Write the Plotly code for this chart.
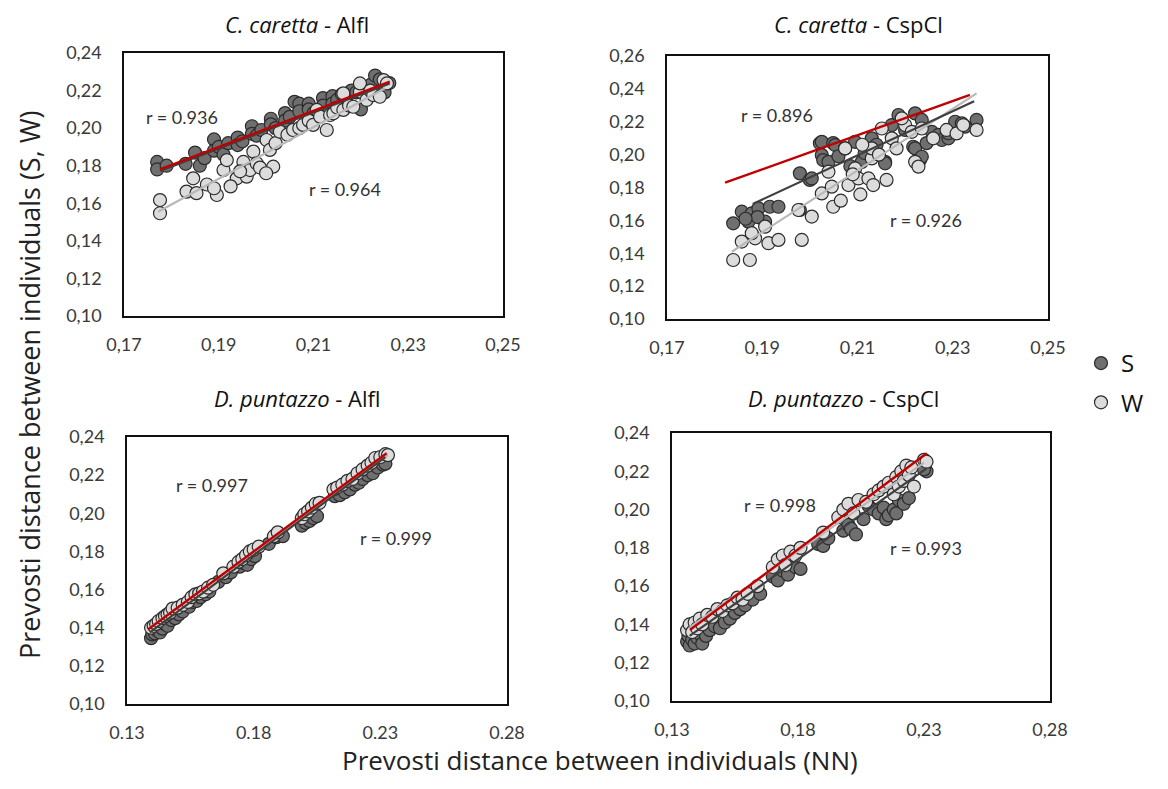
import plotly.graph_objects as go

# ---------------- DATA ----------------
# Panel 1: C. caretta - Alfl
cc_alfl_s_x = [0.177, 0.177, 0.179, 0.183, 0.185, 0.186, 0.187, 0.189, 0.189, 0.190,
               0.191, 0.192, 0.194, 0.194, 0.195, 0.197, 0.197, 0.198, 0.199, 0.201,
               0.201, 0.202, 0.204, 0.204, 0.205, 0.206, 0.207, 0.207, 0.209, 0.209,
               0.210, 0.212, 0.212, 0.214, 0.214, 0.215, 0.216, 0.217, 0.218, 0.219,
               0.220, 0.220, 0.221, 0.222, 0.223, 0.224, 0.225, 0.225, 0.226]
cc_alfl_s_y = [0.182, 0.178, 0.180, 0.181, 0.187, 0.180, 0.184, 0.194, 0.188, 0.190,
               0.186, 0.192, 0.195, 0.191, 0.193, 0.201, 0.197, 0.196, 0.199, 0.205,
               0.202, 0.200, 0.208, 0.204, 0.206, 0.214, 0.213, 0.209, 0.213, 0.210,
               0.208, 0.216, 0.212, 0.217, 0.213, 0.215, 0.218, 0.214, 0.220, 0.219,
               0.221, 0.210, 0.218, 0.223, 0.228, 0.226, 0.222, 0.219, 0.224]
cc_alfl_w_x = [0.1776, 0.1776, 0.1832, 0.1846, 0.1853, 0.1875, 0.1896, 0.1890, 0.1910, 0.1917,
               0.1938, 0.1952, 0.1959, 0.1966, 0.1973, 0.1980, 0.1987, 0.2001, 0.2008, 0.2015,
               0.2020, 0.2029, 0.2045, 0.2057, 0.2070, 0.2078, 0.2090, 0.2099, 0.2107, 0.2114,
               0.2128, 0.2135, 0.2142, 0.2150, 0.2163, 0.2163, 0.2175, 0.2184, 0.2198, 0.2198,
               0.2212, 0.2220, 0.2226, 0.2240, 0.2248, 0.2255, 0.1925, 0.1945, 0.2000]
cc_alfl_w_y = [0.1617, 0.1547, 0.1662, 0.1733, 0.1654, 0.1700, 0.1644, 0.1680, 0.1777, 0.1830,
               0.1733, 0.1820, 0.1742, 0.1777, 0.1875, 0.1813, 0.1790, 0.1937, 0.1884, 0.1795,
               0.1920, 0.1981, 0.1965, 0.1990, 0.2000, 0.2017, 0.2040, 0.2017, 0.2097, 0.2061,
               0.1990, 0.2070, 0.2079, 0.2110, 0.2097, 0.2185, 0.2120, 0.2114, 0.2194, 0.2238,
               0.2150, 0.2200, 0.2176, 0.2167, 0.2256, 0.2238, 0.1690, 0.1770, 0.1760]

# Panel 2: C. caretta - CspCl
cc_cspcl_s_x = [0.1839, 0.1857, 0.1878, 0.1892, 0.1916, 0.1934, 0.1871, 0.1906, 0.1890, 0.1865,
                0.1979, 0.1979, 0.2000, 0.2004, 0.2021, 0.2025, 0.2025, 0.2028, 0.2039, 0.2049,
                0.2053, 0.2060, 0.2074, 0.2085, 0.2095, 0.2109, 0.2115, 0.2130, 0.2140, 0.2158,
                0.2158, 0.2172, 0.2186, 0.2200, 0.2217, 0.2221, 0.2221, 0.2231, 0.2235, 0.2235,
                0.2245, 0.2256, 0.2270, 0.2277, 0.2291, 0.2291, 0.2305, 0.2319, 0.2326, 0.2350]
cc_cspcl_s_y = [0.1582, 0.1653, 0.1643, 0.1673, 0.1683, 0.1683, 0.1592, 0.1592, 0.1620, 0.1610,
                0.1886, 0.1663, 0.1846, 0.1855, 0.2069, 0.2078, 0.1997, 0.1967, 0.1956, 0.2070,
                0.2058, 0.1990, 0.2038, 0.1930, 0.2078, 0.1956, 0.2010, 0.2099, 0.2060, 0.1956,
                0.1947, 0.2180, 0.2241, 0.2150, 0.2048, 0.2251, 0.2038, 0.1967, 0.2211, 0.1987,
                0.2070, 0.2139, 0.2120, 0.2089, 0.2099, 0.2130, 0.2200, 0.2190, 0.2170, 0.2211]
cc_cspcl_w_x = [0.1839, 0.1874, 0.1857, 0.1885, 0.1913, 0.1934, 0.1878, 0.1906, 0.1983, 0.1976,
                0.2004, 0.2025, 0.2049, 0.2046, 0.2039, 0.2074, 0.2081, 0.2095, 0.2106, 0.2102,
                0.2123, 0.2133, 0.2130, 0.2130, 0.2161, 0.2151, 0.2172, 0.2182, 0.2200, 0.2193,
                0.2221, 0.2228, 0.2214, 0.2235, 0.2259, 0.2287, 0.2308, 0.2322, 0.2350, 0.2065,
                0.2090, 0.2145, 0.2110]
cc_cspcl_w_y = [0.1359, 0.1359, 0.1471, 0.1491, 0.1461, 0.1481, 0.1522, 0.1562, 0.1481, 0.1663,
                0.1623, 0.1764, 0.1683, 0.1805, 0.1896, 0.2038, 0.1815, 0.1916, 0.1758, 0.1855,
                0.1855, 0.1815, 0.1977, 0.2038, 0.1846, 0.2159, 0.2099, 0.2038, 0.2180, 0.2221,
                0.1956, 0.1927, 0.2139, 0.2159, 0.2099, 0.2150, 0.2129, 0.2180, 0.2150, 0.1720,
                0.1880, 0.2000, 0.2060]

# Panel 3: D. puntazzo - Alfl
dp_alfl_s_x = [0.1395, 0.1400, 0.1410, 0.1420, 0.1430, 0.1440, 0.1450, 0.1460, 0.1475, 0.1490,
               0.1505, 0.1520, 0.1545, 0.1560, 0.1575, 0.1590, 0.1610, 0.1625, 0.1660, 0.1690,
               0.1710, 0.1745, 0.1760, 0.1775, 0.1790, 0.1805, 0.1860, 0.1890, 0.1915, 0.1990,
               0.2005, 0.2020, 0.2035, 0.2050, 0.2120, 0.2140, 0.2160, 0.2180, 0.2200, 0.2215,
               0.2230, 0.2250, 0.2270, 0.2290, 0.2310, 0.2320]
dp_alfl_s_y = [0.1345, 0.1365, 0.1370, 0.1385, 0.1375, 0.1395, 0.1420, 0.1410, 0.1440, 0.1450,
               0.1470, 0.1485, 0.1510, 0.1535, 0.1540, 0.1560, 0.1575, 0.1590, 0.1640, 0.1665,
               0.1690, 0.1720, 0.1740, 0.1730, 0.1760, 0.1775, 0.1840, 0.1875, 0.1880, 0.1935,
               0.1950, 0.1960, 0.1975, 0.1985, 0.2090, 0.2095, 0.2110, 0.2125, 0.2150, 0.2160,
               0.2180, 0.2200, 0.2210, 0.2240, 0.2255, 0.2260]
dp_alfl_w_x = [0.1395, 0.1405, 0.1415, 0.1425, 0.1440, 0.1450, 0.1460, 0.1470, 0.1480, 0.1500,
               0.1520, 0.1540, 0.1555, 0.1570, 0.1585, 0.1600, 0.1620, 0.1640, 0.1680, 0.1720,
               0.1740, 0.1755, 0.1770, 0.1785, 0.1800, 0.1820, 0.1880, 0.1895, 0.1990, 0.2000,
               0.2015, 0.2030, 0.2045, 0.2060, 0.2115, 0.2130, 0.2150, 0.2170, 0.2190, 0.2210,
               0.2230, 0.2250, 0.2265, 0.2280, 0.2300, 0.2320, 0.2330]
dp_alfl_w_y = [0.1400, 0.1410, 0.1420, 0.1435, 0.1450, 0.1460, 0.1470, 0.1480, 0.1500, 0.1505,
               0.1520, 0.1535, 0.1560, 0.1575, 0.1580, 0.1590, 0.1610, 0.1625, 0.1685, 0.1720,
               0.1745, 0.1760, 0.1780, 0.1800, 0.1810, 0.1825, 0.1880, 0.1900, 0.1975, 0.1995,
               0.2010, 0.2030, 0.2050, 0.2055, 0.2125, 0.2135, 0.2150, 0.2170, 0.2180, 0.2210,
               0.2230, 0.2250, 0.2265, 0.2290, 0.2295, 0.2310, 0.2305]

# Panel 4: D. puntazzo - CspCl
dp_cspcl_s_x = [0.1360, 0.1365, 0.1370, 0.1375, 0.1380, 0.1390, 0.1400, 0.1410, 0.1420, 0.1435,
                0.1450, 0.1470, 0.1490, 0.1510, 0.1530, 0.1550, 0.1570, 0.1590, 0.1620, 0.1650,
                0.1700, 0.1720, 0.1740, 0.1760, 0.1790, 0.1810, 0.1880, 0.1900, 0.1920, 0.1980,
                0.2000, 0.2010, 0.2030, 0.2060, 0.2080, 0.2100, 0.2120, 0.2140, 0.2150, 0.2160,
                0.2180, 0.2190, 0.2200, 0.2220, 0.2240, 0.2310, 0.2300]
dp_cspcl_s_y = [0.1310, 0.1340, 0.1290, 0.1360, 0.1320, 0.1300, 0.1330, 0.1350, 0.1300, 0.1340,
                0.1370, 0.1390, 0.1380, 0.1410, 0.1430, 0.1460, 0.1480, 0.1500, 0.1530, 0.1560,
                0.1650, 0.1630, 0.1680, 0.1660, 0.1700, 0.1690, 0.1820, 0.1810, 0.1850, 0.1890,
                0.1920, 0.1900, 0.1870, 0.1950, 0.2020, 0.2000, 0.1980, 0.2010, 0.1950, 0.1970,
                0.2000, 0.1980, 0.2050, 0.2030, 0.2060, 0.2200, 0.2210]
dp_cspcl_w_x = [0.1360, 0.1370, 0.1380, 0.1390, 0.1400, 0.1410, 0.1420, 0.1440, 0.1460, 0.1480,
                0.1500, 0.1520, 0.1540, 0.1560, 0.1580, 0.1600, 0.1640, 0.1700, 0.1720, 0.1740,
                0.1750, 0.1770, 0.1790, 0.1810, 0.1900, 0.1960, 0.1980, 0.2000, 0.2020, 0.2040,
                0.2070, 0.2100, 0.2120, 0.2140, 0.2160, 0.2180, 0.2190, 0.2200, 0.2210, 0.2220,
                0.2230, 0.2240, 0.2250, 0.2260, 0.2300, 0.2310]
dp_cspcl_w_y = [0.1370, 0.1400, 0.1360, 0.1410, 0.1380, 0.1430, 0.1400, 0.1450, 0.1440, 0.1480,
                0.1470, 0.1500, 0.1510, 0.1540, 0.1530, 0.1560, 0.1600, 0.1700, 0.1740, 0.1760,
                0.1710, 0.1780, 0.1760, 0.1800, 0.1880, 0.1960, 0.2000, 0.2030, 0.1980, 0.2050,
                0.2040, 0.2080, 0.2100, 0.2120, 0.2140, 0.2080, 0.2170, 0.2120, 0.2200, 0.2150,
                0.2230, 0.2180, 0.2220, 0.2120, 0.2260, 0.2250]

# Line endpoints (red = reference line, dark = S fit, light = W fit)
red_x = [[0.1776, 0.2261], [0.1822, 0.2336], [0.1384, 0.2325], [0.1371, 0.2311]]
red_y = [[0.1781, 0.2247], [0.1829, 0.2363], [0.1392, 0.2315], [0.1371, 0.2294]]
sfit_x = [[0.1776, 0.2261], [0.1880, 0.2345], [0.1390, 0.2320], [0.1370, 0.2310]]
sfit_y = [[0.1772, 0.2238], [0.1700, 0.2325], [0.1375, 0.2295], [0.1340, 0.2215]]
wfit_x = [[0.1772, 0.2251], [0.1836, 0.2350], [0.1390, 0.2330], [0.1370, 0.2300]]
wfit_y = [[0.1555, 0.2212], [0.1409, 0.2373], [0.1400, 0.2305], [0.1385, 0.2245]]

panel_titles = ["<i>C. caretta</i> - Alfl", "<i>C. caretta</i> - CspCl",
                "<i>D. puntazzo</i> - Alfl", "<i>D. puntazzo</i> - CspCl"]
r_labels = [["r = 0.936", "r = 0.964"], ["r = 0.896", "r = 0.926"],
            ["r = 0.997", "r = 0.999"], ["r = 0.998", "r = 0.993"]]
r_pos = [[(0.1822, 0.2059), (0.2166, 0.1676)], [(0.1931, 0.2241), (0.2244, 0.1602)],
         [(0.1636, 0.2148), (0.2362, 0.1870)], [(0.1729, 0.2024), (0.2308, 0.1799)]]

top_x_ticks = [0.17, 0.19, 0.21, 0.23, 0.25]
top_x_text = ["0,17", "0,19", "0,21", "0,23", "0,25"]
bot_x_ticks = [0.13, 0.18, 0.23, 0.28]
bot_x_text_alfl = ["0.13", "0.18", "0.23", "0.28"]
bot_x_text_cspcl = ["0,13", "0,18", "0,23", "0,28"]
y_ticks_24 = [0.10, 0.12, 0.14, 0.16, 0.18, 0.20, 0.22, 0.24]
y_text_24 = ["0,10", "0,12", "0,14", "0,16", "0,18", "0,20", "0,22", "0,24"]
y_ticks_26 = y_ticks_24 + [0.26]
y_text_26 = y_text_24 + ["0,26"]

series_names = ["S", "W"]
# ---------------- FIGURE ----------------
PAGE_OFF = 8                    # default body margin of the page
W, H = 1168 - 2 * PAGE_OFF, 789 - 2 * PAGE_OFF
S_COLOR = "#6f6f6f"
W_COLOR = "#dcdcdc"
EDGE = "#2b2b2b"
FONT = "Lato"

def fx(px):
    return (px - PAGE_OFF) / W

def fy(py):
    return 1 - (py - PAGE_OFF) / H

panels = [
    (cc_alfl_s_x, cc_alfl_s_y, cc_alfl_w_x, cc_alfl_w_y),
    (cc_cspcl_s_x, cc_cspcl_s_y, cc_cspcl_w_x, cc_cspcl_w_y),
    (dp_alfl_s_x, dp_alfl_s_y, dp_alfl_w_x, dp_alfl_w_y),
    (dp_cspcl_s_x, dp_cspcl_s_y, dp_cspcl_w_x, dp_cspcl_w_y),
]
# page-pixel boxes of plot areas: (left, right, top, bottom)
boxes = [(124, 503, 53, 316), (667, 1048, 56, 319), (127, 507, 437, 704), (672, 1050, 433, 701)]
title_pos = [(297, 24), (858, 24), (297, 398), (843, 398)]

fig = go.Figure()
for i, (sx, sy, wx, wy) in enumerate(panels):
    xa = "x" if i == 0 else f"x{i+1}"
    ya = "y" if i == 0 else f"y{i+1}"
    fig.add_trace(go.Scatter(x=sx, y=sy, mode="markers", name=series_names[0], xaxis=xa, yaxis=ya,
                             marker=dict(size=13, color=S_COLOR, line=dict(color=EDGE, width=1.2)),
                             showlegend=(i == 0), legendgroup="S", legendrank=1))
    fig.add_trace(go.Scatter(x=wx, y=wy, mode="markers", name=series_names[1], xaxis=xa, yaxis=ya,
                             marker=dict(size=13, color=W_COLOR, line=dict(color=EDGE, width=1.2)),
                             showlegend=(i == 0), legendgroup="W", legendrank=2))
    fig.add_trace(go.Scatter(x=wfit_x[i], y=wfit_y[i], mode="lines", xaxis=xa, yaxis=ya,
                             line=dict(color="#b8b8b8", width=2.2), showlegend=False, hoverinfo="skip"))
    fig.add_trace(go.Scatter(x=sfit_x[i], y=sfit_y[i], mode="lines", xaxis=xa, yaxis=ya,
                             line=dict(color="#3f3f3f", width=2.2), showlegend=False, hoverinfo="skip"))
    fig.add_trace(go.Scatter(x=red_x[i], y=red_y[i], mode="lines", xaxis=xa, yaxis=ya,
                             line=dict(color="#c00000", width=2.4), showlegend=False, hoverinfo="skip"))

def axis_common():
    return dict(showline=True, mirror=True, linecolor="#111111", linewidth=1.6, showgrid=False,
                zeroline=False, ticks="", tickfont=dict(family=FONT, size=18, color="#3a3a3a"),
                fixedrange=True, automargin=False)

layout = dict(template="none", width=W, height=H, margin=dict(l=0, r=0, t=0, b=0, autoexpand=False),
              autosize=False, paper_bgcolor="white", plot_bgcolor="white", font=dict(family=FONT))
xranges = [[0.17, 0.25], [0.17, 0.25], [0.13, 0.28], [0.13, 0.28]]
yranges = [[0.10, 0.24], [0.10, 0.26], [0.10, 0.24], [0.10, 0.24]]
xtv = [top_x_ticks, top_x_ticks, bot_x_ticks, bot_x_ticks]
xtt = [top_x_text, top_x_text, bot_x_text_alfl, bot_x_text_cspcl]
ytv = [y_ticks_24, y_ticks_26, y_ticks_24, y_ticks_24]
ytt = [y_text_24, y_text_26, y_text_24, y_text_24]
for i, (l, r, t, b) in enumerate(boxes):
    xk = "xaxis" if i == 0 else f"xaxis{i+1}"
    yk = "yaxis" if i == 0 else f"yaxis{i+1}"
    xa = axis_common()
    xa.update(domain=[fx(l), fx(r)], range=xranges[i], tickvals=xtv[i], ticktext=xtt[i],
              anchor="y" if i == 0 else f"y{i+1}", ticklabelstandoff=12)
    ya = axis_common()
    ya.update(domain=[fy(b), fy(t)], range=yranges[i], tickvals=ytv[i], ticktext=ytt[i],
              anchor="x" if i == 0 else f"x{i+1}", ticklabelstandoff=17)
    layout[xk] = xa
    layout[yk] = ya

annotations = []
for i in range(4):
    tx, ty = title_pos[i]
    annotations.append(dict(text=panel_titles[i], xref="paper", yref="paper",
                            x=fx(tx), y=fy(ty), showarrow=False,
                            font=dict(family="Open Sans", size=22, color="#111111"),
                            xanchor="center", yanchor="middle"))
    xr = "x" if i == 0 else f"x{i+1}"
    yr = "y" if i == 0 else f"y{i+1}"
    for lab, (px, py) in zip(r_labels[i], r_pos[i]):
        annotations.append(dict(text=lab, xref=xr, yref=yr, x=px, y=py, showarrow=False,
                                xanchor="center", yanchor="middle",
                                font=dict(family=FONT, size=18, color="#333333")))
annotations.append(dict(text="Prevosti distance between individuals (NN)", xref="paper", yref="paper",
                        x=fx(600), y=fy(760), showarrow=False, xanchor="center", yanchor="middle",
                        font=dict(family="Open Sans", size=26, color="#222222")))
annotations.append(dict(text="Prevosti distance between individuals (S, W)", xref="paper", yref="paper",
                        x=fx(29), y=fy(385), showarrow=False, textangle=-90,
                        xanchor="center", yanchor="middle",
                        font=dict(family="Open Sans", size=27, color="#222222")))
layout["annotations"] = annotations
layout["legend"] = dict(x=fx(1081), y=fy(341), xanchor="left", yanchor="top",
                        font=dict(family="Open Sans", size=24, color="#111111"),
                        bgcolor="rgba(0,0,0,0)", tracegroupgap=5, itemwidth=30)
layout["showlegend"] = True
fig.update_layout(**layout)
fig.write_html("out.html")
